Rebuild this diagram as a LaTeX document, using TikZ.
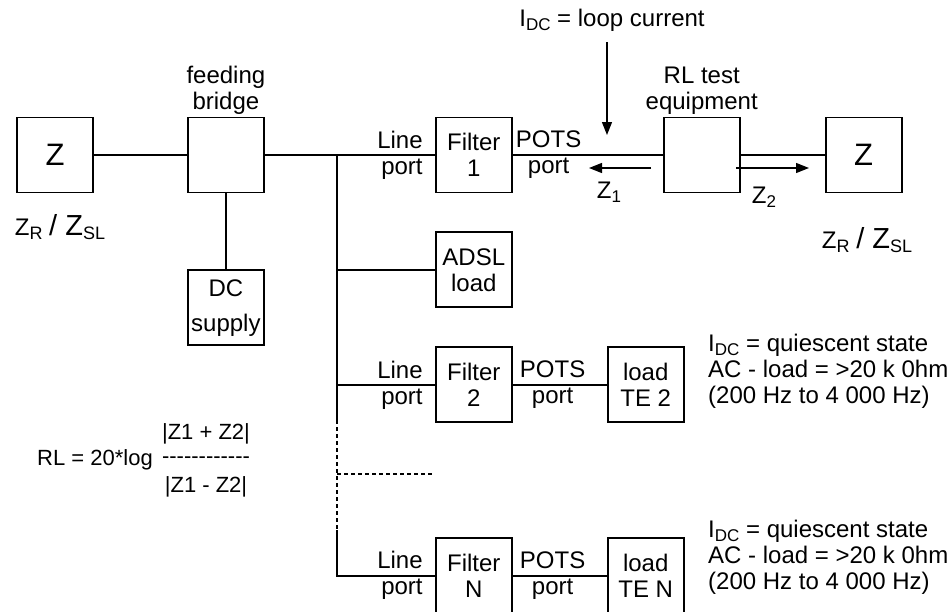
\documentclass[tikz,border=0pt]{standalone}
\usepackage{fontspec}
\setmainfont{Liberation Sans}
\usetikzlibrary{positioning, arrows.meta}
\newcommand{\lowidx}[2][17]{\raisebox{-.35ex}{\fontsize{#1}{#1}\selectfont #2}}
\newcommand{\zrsl}{{\fontsize{24}{26}\selectfont Z\lowidx[18]{R} {\fontsize{29}{30}\selectfont / Z}\lowidx[18]{SL}}}
\tikzstyle{arrow} = [line width=1.3pt, -{Triangle[length=13pt,width=10pt]}]

\begin{document}
\begin{tikzpicture}[x=1pt, y=-1pt,
    box/.style={draw, line width=1.9pt, minimum width=76pt, minimum height=75pt, inner sep=0pt, align=center, font=\fontsize{24}{26}\selectfont},
    bigz/.style={box, font=\fontsize{31}{32}\selectfont},
    lbl/.style={align=center, inner sep=0pt, font=\fontsize{24}{26}\selectfont},
    frm/.style={align=center, inner sep=0pt, font=\fontsize{22}{24}\selectfont},
    note/.style={align=left, inner sep=0pt, anchor=west, font=\fontsize{24}{26}\selectfont},
    wire/.style={line width=1.9pt},
    dotwire/.style={line width=1.3pt, dash pattern=on 4pt off 3pt}]

    \useasboundingbox (0,0) rectangle (952,611);

    % Main line
    \node[bigz] (zl) at (55,155) {Z};
    \node[box, right=93pt of zl] (fb) {};
    \node[box, below=76pt of fb] (dc) {DC\\[9pt]supply};
    \node[box, right=170pt of fb] (f1) {Filter\\1};
    \node[box, right=150pt of f1] (rl) {};
    \node[bigz, right=84pt of rl] (zr) {Z};

    % Branches
    \node[box, below=38pt of f1] (adsl) {ADSL\\load};
    \node[box, below=38pt of adsl] (f2) {Filter\\2};
    \node[box, right=94pt of f2] (te2) {load\\TE 2};
    \node[box, below=114pt of f2] (fn) {Filter\\N};
    \node[box, right=94pt of fn] (ten) {load\\TE N};

    % Labels
    \node[lbl, above=2pt of fb] (fbl) {feeding\\bridge};
    \node[lbl, above=2pt of rl] (rll) {RL test\\equipment};
    \node[lbl] (zll) at (60,227) {\zrsl};
    \node[lbl] (zrl) at (867,240) {\zrsl};
    \node[lbl] (idc) at (612,20) {I\lowidx{DC} = loop current};
    \node[lbl, align=right, left=12pt of f1] (lp1) {Line\\port};
    \node[lbl, align=right, left=12pt of f2] (lp2) {Line\\port};
    \node[lbl, align=right, left=12pt of fn] (lpn) {Line\\port};
    \node[lbl, right=3pt of f1] (pp1) {POTS\\port};
    \node[lbl, right=7pt of f2] (pp2) {POTS\\port};
    \node[lbl, right=7pt of fn] (ppn) {POTS\\port};
    \node[lbl] (z1l) at (609,192) {Z\lowidx{1}};
    \node[lbl] (z2l) at (764,197) {Z\lowidx{2}};
    \node[note] (q2) at (708,371) {I\lowidx{DC} = quiescent state\\AC - load = >20 k 0hm\\(200 Hz to 4 000 Hz)};
    \node[note] (qn) at (708,557) {I\lowidx{DC} = quiescent state\\AC - load = >20 k 0hm\\(200 Hz to 4 000 Hz)};

    % Return loss formula
    \node[frm, anchor=west] (rlf) at (37,460) {RL = 20*log};
    \node[frm] (num) at (206,434) {|Z1 + Z2|};
    \node[frm] (bar) at (206,460) {-{}-{}-{}-{}-{}-{}-{}-{}-{}-{}-{}-};
    \node[frm] (den) at (206,487) {|Z1 - Z2|};

    % Bus points
    \coordinate (bus0) at (337,155);
    \coordinate (busa) at (337,420);
    \coordinate (busb) at (337,530);
    \coordinate (dh) at (337,474);

    % Wires
    \draw[wire] (zl.east) -- (fb.west);
    \draw[wire] (fb.south) -- (dc.north);
    \draw[wire] (fb.east) -- (f1.west);
    \draw[wire] (f1.east) -- (rl.west);
    \draw[wire] (rl.east) -- (zr.west);
    \draw[wire] (bus0) -- (busa);
    \draw[dotwire] (busa) -- (busb);
    \draw[dotwire] (dh) -- (dh -| fn.west);
    \draw[wire] (busb) |- (fn.west);
    \draw[wire] (adsl.west -| bus0) -- (adsl.west);
    \draw[wire] (f2.west -| bus0) -- (f2.west);
    \draw[wire] (f2.east) -- (te2.west);
    \draw[wire] (fn.east) -- (ten.west);

    % Arrows
    \coordinate (cura) at (607,42);
    \coordinate (curb) at (607,135);
    \coordinate (z1a) at (651,168);
    \coordinate (z1b) at (589,168);
    \coordinate (z2a) at (736,168);
    \coordinate (z2b) at (809,168);
    \draw[arrow] (cura) -- (curb);
    \draw[arrow] (z1a) -- (z1b);
    \draw[arrow] (z2a) -- (z2b);

\end{tikzpicture}
\end{document}
